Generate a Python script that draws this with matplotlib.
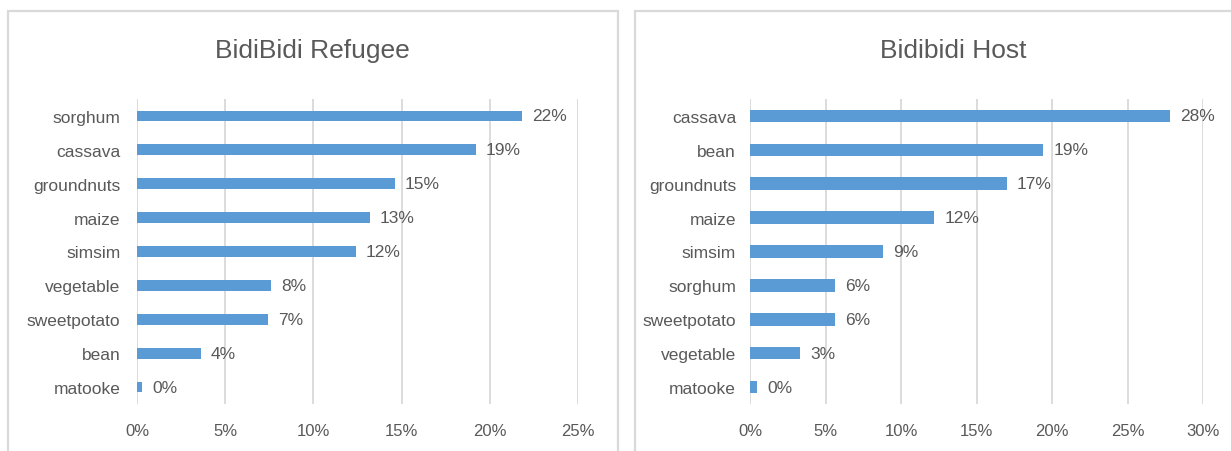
import matplotlib
matplotlib.use("Agg")
import matplotlib.pyplot as plt
from matplotlib.patches import Rectangle
from matplotlib.ticker import FuncFormatter, MultipleLocator

# crop shares (%) per group, listed top to bottom
refugee_crops = ["sorghum", "cassava", "groundnuts", "maize", "simsim",
                 "vegetable", "sweetpotato", "bean", "matooke"]
refugee_vals = [21.8, 19.2, 14.6, 13.2, 12.4, 7.6, 7.4, 3.6, 0.3]

host_crops = ["cassava", "bean", "groundnuts", "maize", "simsim",
              "sorghum", "sweetpotato", "vegetable", "matooke"]
host_vals = [27.8, 19.4, 17.0, 12.2, 8.8, 5.6, 5.6, 3.3, 0.45]

BAR = "#5b9bd5"
GRID = "#d9d9d9"
TXT = "#595959"
W, H = 1231, 452

plt.rcParams["font.family"] = ["Liberation Sans", "DejaVu Sans"]

fig = plt.figure(figsize=(W / 100, H / 100), dpi=100)


def px(x0, y0, x1, y1):
    # pixel box (top-left origin) -> figure fraction rect
    return [x0 / W, 1 - y1 / H, (x1 - x0) / W, (y1 - y0) / H]


def panel(rect, title, tx, crops, vals, xmax, bar_h, ypad, frame):
    # chart frame
    fx0, fx1 = frame
    fig.add_artist(Rectangle((fx0 / W, -0.1), (fx1 - fx0) / W, 1.1 - 12 / H,
                             transform=fig.transFigure, fill=False,
                             edgecolor=GRID, lw=1.6))
    ax = fig.add_axes(px(*rect))
    pos = list(range(len(crops)))[::-1]
    ax.barh(pos, vals, height=bar_h, color=BAR, zorder=3)
    for p, v in zip(pos, vals):
        ax.text(v + xmax * 0.023, p, f"{v:.0f}%", va="center", ha="left",
                fontsize=12.5, color=TXT)
    ax.set_yticks(pos)
    ax.set_yticklabels(crops)
    ax.set_ylim(-0.5, len(crops) - 0.5)
    ax.set_xlim(0, xmax)
    ax.xaxis.set_major_locator(MultipleLocator(5))
    ax.xaxis.set_major_formatter(FuncFormatter(lambda v, _: f"{v:.0f}%"))
    ax.grid(axis="x", color=GRID, lw=1.3, zorder=0)
    for s in ax.spines.values():
        s.set_visible(False)
    ax.tick_params(axis="x", length=0, pad=14, labelsize=12, labelcolor=TXT)
    ax.tick_params(axis="y", length=0, pad=ypad, labelsize=12.5, labelcolor=TXT)
    fig.text(tx / W, 1 - 51 / H, title, ha="center", va="center",
             fontsize=19, color=TXT)
    return ax


panel((137, 100, 578, 405), "BidiBidi Refugee", 312, refugee_crops,
      refugee_vals, 25, 0.32, 12, (8, 618))
panel((750, 100, 1203, 405), "Bidibidi Host", 953, host_crops,
      host_vals, 30, 0.37, 10, (635, 1300))

fig.savefig("out.png", dpi=100)
